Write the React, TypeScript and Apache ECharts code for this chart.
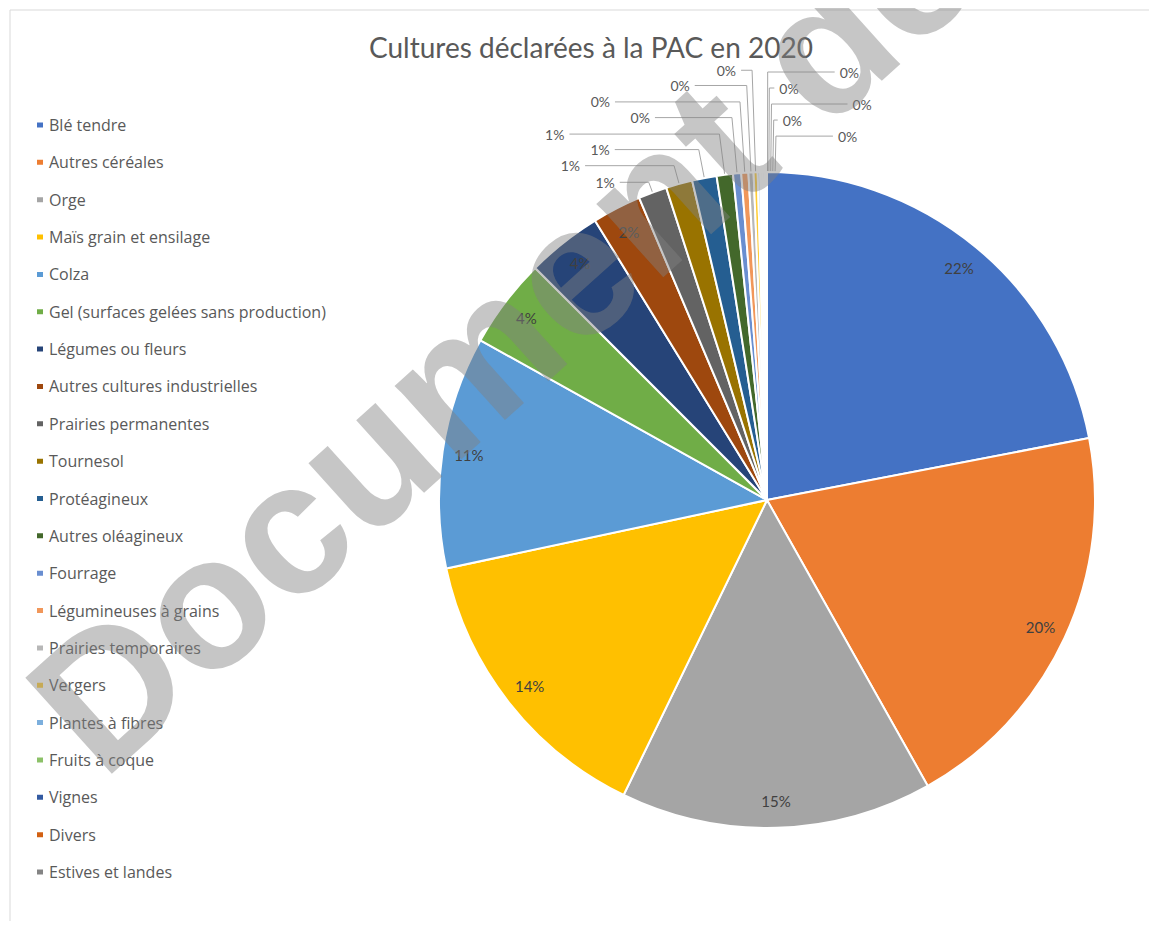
import React, { useEffect, useRef } from "react";
import * as echarts from "echarts";

// ---- data ----
const TITLE = "Cultures déclarées à la PAC en 2020";
const WATERMARK = "Document de";

const categories = [
  "Blé tendre",
  "Autres céréales",
  "Orge",
  "Maïs grain et ensilage",
  "Colza",
  "Gel (surfaces gelées sans production)",
  "Légumes ou fleurs",
  "Autres cultures industrielles",
  "Prairies permanentes",
  "Tournesol",
  "Protéagineux",
  "Autres oléagineux",
  "Fourrage",
  "Légumineuses à grains",
  "Prairies temporaires",
  "Vergers",
  "Plantes à fibres",
  "Fruits à coque",
  "Vignes",
  "Divers",
  "Estives et landes",
];

// share of declared area (%)
const shares = [
  21.9, 19.8, 15.3, 14.4, 11.4, 4.4, 3.7, 2.4, 1.4, 1.3, 1.2, 0.8, 0.4, 0.35,
  0.25, 0.2, 0.12, 0.1, 0.1, 0.08, 0.05,
];

// ---- styles ----
const palette = [
  "#4472C4", "#ED7D31", "#A5A5A5", "#FFC000", "#5B9BD5", "#70AD47",
  "#264478", "#9E480E", "#636363", "#997300", "#255E91", "#43682B",
  "#698ED0", "#F1975A", "#B7B7B7", "#FFCD33", "#7CAFDD", "#8CC168",
  "#335AA1", "#D26012", "#848484",
];
const INSIDE_COUNT = 8; // slices labelled inside the pie
const LEFT_END = 16; // slices 8..15 labelled on the left, 16..20 on the right
// leader line lengths (radial part, horizontal part)
const leaderLength = [0, 0, 0, 0, 0, 0, 0, 0, 11, 19, 29, 41, 56, 71, 87, 102, 36, 52, 68, 84, 100];
const leaderLength2 = [0, 0, 0, 0, 0, 0, 0, 0, 29, 89, 84, 150, 77, 125, 52, 11, 57, 4, 76, 5, 67];

const CX = 759;
const CY = 492;
const R = 328;

export default function App() {
  const ref = useRef<HTMLDivElement>(null);

  useEffect(() => {
    const chart = echarts.init(ref.current as HTMLDivElement, null, { renderer: "svg" });
    const fmt = (p: any) => Math.round(p.percent) + "%";

    const mainData = categories.map((name, i) => {
      const on = i >= INSIDE_COUNT && i < LEFT_END;
      return {
        name,
        value: shares[i],
        label: { show: on },
        labelLine: { show: on, length: leaderLength[i], length2: leaderLength2[i] },
      };
    });
    // counter-clockwise twin: puts the labels of the last, hair-thin slices to the right of 12 o'clock
    const rightData = categories.map((name, i) => {
      const on = i >= LEFT_END;
      return {
        name,
        value: shares[i],
        label: { show: on },
        labelLine: { show: on, length: leaderLength[i], length2: leaderLength2[i] },
      };
    });
    const insideData = categories.map((name, i) => ({
      name,
      value: shares[i],
      label: { show: i < INSIDE_COUNT },
    }));

    const outsideLabel = {
      position: "outside",
      formatter: fmt,
      fontFamily: "Lato",
      fontSize: 14,
      color: "#595959",
      distanceToLabelLine: 5,
    };
    const leader = { lineStyle: { color: "#a6a6a6", width: 1 } };
    const clear = { color: "rgba(0,0,0,0)", borderWidth: 0 };

    const theta = (42 * Math.PI) / 180;

    chart.setOption({
      animation: false,
      color: palette,
      title: {
        text: TITLE,
        left: 361,
        top: 25,
        padding: 0,
        textStyle: { fontFamily: "Lato", fontSize: 28, fontWeight: "normal", color: "#595959" },
      },
      legend: {
        data: categories,
        orient: "vertical",
        left: 22,
        top: 104,
        itemWidth: 8,
        itemHeight: 7,
        itemGap: 21.35,
        icon: "rect",
        selectedMode: false,
        textStyle: { fontFamily: "Open Sans", fontSize: 16, color: "#595959", lineHeight: 16 },
      },
      graphic: [
        {
          type: "polyline",
          silent: true,
          shape: { points: [[2, 913], [2, 2], [1141, 2]] },
          style: { stroke: "#d9d9d9", lineWidth: 1, fill: "none" },
          z: 0,
        },
        {
          type: "text",
          silent: true,
          x: 51,
          y: 726,
          rotation: theta,
          z: 100,
          style: {
            text: WATERMARK,
            font: 'bold 188px "Liberation Sans"',
            fill: "rgba(128,128,128,0.45)",
            align: "left",
            verticalAlign: "middle",
          },
        },
      ],
      series: [
        {
          type: "pie",
          name: "main",
          center: [CX, CY],
          radius: R,
          startAngle: 90,
          clockwise: true,
          avoidLabelOverlap: false,
          silent: true,
          itemStyle: { borderColor: "#ffffff", borderWidth: 2 },
          label: outsideLabel,
          labelLine: leader,
          data: mainData,
        },
        {
          type: "pie",
          name: "right labels",
          center: [CX, CY],
          radius: R,
          startAngle: 90,
          clockwise: false,
          avoidLabelOverlap: false,
          silent: true,
          itemStyle: clear,
          label: outsideLabel,
          labelLine: leader,
          data: rightData,
        },
        {
          type: "pie",
          name: "inside labels",
          center: [CX, CY],
          radius: [R * 0.82, R],
          startAngle: 90,
          clockwise: true,
          silent: true,
          avoidLabelOverlap: false,
          itemStyle: clear,
          label: {
            position: "inside",
            formatter: fmt,
            fontFamily: "Lato",
            fontSize: 15,
            color: "#404040",
          },
          labelLine: { show: false },
          data: insideData,
        },
      ],
    });

    return () => chart.dispose();
  }, []);

  return <div ref={ref} style={{ width: 1141, height: 913 }} />;
}
